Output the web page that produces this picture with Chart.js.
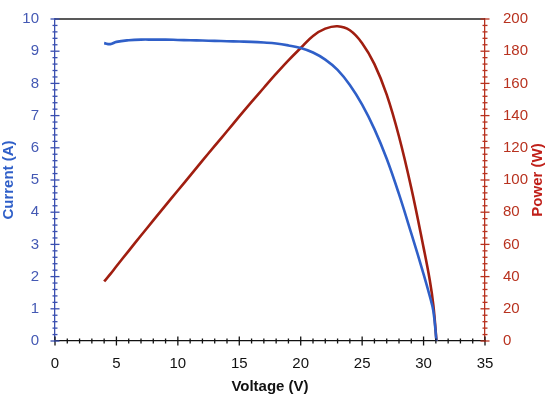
<!DOCTYPE html>
<html>
<head>
<meta charset="utf-8">
<script src="https://cdn.jsdelivr.net/npm/chart.js@4"></script>
<style>
    html, body { margin: 0; padding: 0; background: #fff; }
    #wrap { width: 550px; height: 396px; }
</style>
</head>
<body>
<div id="wrap"><canvas id="ivChart" width="550" height="396"></canvas></div>
<script>
// データここから
const voltage = [4, 4.5, 5, 6, 7, 8, 9, 10, 11, 12, 13, 14, 15, 16, 17, 18, 19, 20, 21, 22, 23, 24, 25, 26, 27, 28, 29, 30, 30.5, 30.8, 31.05];
const current = [9.25, 9.22, 9.29, 9.34, 9.36, 9.36, 9.36, 9.35, 9.34, 9.33, 9.32, 9.31, 9.3, 9.29, 9.27, 9.24, 9.18, 9.1, 8.96, 8.74, 8.42, 7.95, 7.34, 6.58, 5.66, 4.56, 3.34, 2.08, 1.4, 0.92, 0];
const power = [37, 41.5, 46.4, 56, 65.5, 74.9, 84.2, 93.5, 102.7, 112, 121.2, 130.3, 139.5, 148.5, 157.3, 166, 174.3, 182, 189.5, 194, 195.5, 193, 185, 172, 153, 127, 95, 58, 38, 22, 0];
const xTicks = [0, 5, 10, 15, 20, 25, 30, 35];
const currentTicks = [0, 1, 2, 3, 4, 5, 6, 7, 8, 9, 10];
const powerTicks = [0, 20, 40, 60, 80, 100, 120, 140, 160, 180, 200];
// データここまで

const blue = "#2f5fc8";
const red = "#a01e10";
const font = "'Liberation Sans', Arial, sans-serif";

function toPoints(xs, ys) {
    return xs.map(function (x, i) { return { x: x, y: ys[i] }; });
}

// 目盛り線（主・副）と右軸タイトルを描くプラグイン
const tickMarks = {
    id: "tickMarks",
    afterDraw(chart) {
        const ctx = chart.ctx;
        const area = chart.chartArea;
        const sx = chart.scales.x, sy = chart.scales.y, sp = chart.scales.yP;
        ctx.save();
        ctx.lineWidth = 1.3;

        // top border
        ctx.strokeStyle = "#222";
        ctx.beginPath();
        ctx.moveTo(area.left, area.top);
        ctx.lineTo(area.right, area.top);
        ctx.stroke();

        // x axis
        ctx.strokeStyle = "#111";
        for (let v = 0; v <= 35; v += 1) {
            const px = sx.getPixelForValue(v);
            const len = v % 5 === 0 ? 4.5 : 2.5;
            ctx.beginPath();
            ctx.moveTo(px, area.bottom - len);
            ctx.lineTo(px, area.bottom + len);
            ctx.stroke();
        }
        // left axis
        ctx.strokeStyle = "#3a4fb0";
        for (let i = 0; i <= 50; i++) {
            const py = sy.getPixelForValue(i * 0.2);
            const len = i % 5 === 0 ? 4.5 : 2.5;
            ctx.beginPath();
            ctx.moveTo(area.left - len, py);
            ctx.lineTo(area.left + len, py);
            ctx.stroke();
        }
        // right axis
        ctx.strokeStyle = "#b8321f";
        for (let i = 0; i <= 50; i++) {
            const py = sp.getPixelForValue(i * 4);
            const len = i % 5 === 0 ? 4.5 : 2.5;
            ctx.beginPath();
            ctx.moveTo(area.right - len, py);
            ctx.lineTo(area.right + len, py);
            ctx.stroke();
        }

        // 右軸タイトル（下から上へ）
        ctx.translate(538, (area.top + area.bottom) / 2);
        ctx.rotate(-Math.PI / 2);
        ctx.fillStyle = "#c0201a";
        ctx.font = "bold 15px " + font;
        ctx.textAlign = "center";
        ctx.textBaseline = "middle";
        ctx.fillText("Power (W)", 0, 0);
        ctx.restore();
    },
};

new Chart(document.querySelector("#ivChart"), {
    type: "line",
    data: {
        datasets: [
            {
                label: "Current (A)",
                data: toPoints(voltage, current),
                yAxisID: "y",
                borderColor: blue,
                borderWidth: 2.6,
                pointRadius: 0,
                tension: 0.4,
            },
            {
                label: "Power (W)",
                data: toPoints(voltage, power),
                yAxisID: "yP",
                borderColor: red,
                borderWidth: 2.6,
                pointRadius: 0,
                tension: 0.4,
            },
        ],
    },
    options: {
        responsive: false,
        animation: false,
        layout: { padding: { top: 12, left: 0, right: 0, bottom: 0 } },
        plugins: { legend: { display: false }, tooltip: { enabled: false } },
        scales: {
            x: {
                type: "linear",
                min: 0,
                max: 35,
                afterBuildTicks: (s) => { s.ticks = xTicks.map((v) => ({ value: v })); },
                ticks: { color: "#111", font: { family: font, size: 15 }, padding: 6 },
                grid: { display: false },
                border: { display: true, color: "#111", width: 1.3 },
                title: {
                    display: true,
                    text: "Voltage (V)",
                    color: "#111",
                    font: { family: font, size: 15, weight: "bold" },
                    padding: { top: 2, bottom: 0 },
                },
                afterFit: (s) => { s.height = 55; },
            },
            y: {
                position: "left",
                min: 0,
                max: 10,
                afterBuildTicks: (s) => { s.ticks = currentTicks.map((v) => ({ value: v })); },
                ticks: { color: "#4459b4", font: { family: font, size: 15 }, padding: 8 },
                grid: { display: false },
                border: { display: true, color: "#3a4fb0", width: 1.3 },
                title: {
                    display: true,
                    text: "Current (A)",
                    color: blue,
                    font: { family: font, size: 15, weight: "bold" },
                    padding: { top: 0, bottom: 2 },
                },
                afterFit: (s) => { s.width = 55; },
            },
            yP: {
                position: "right",
                min: 0,
                max: 200,
                afterBuildTicks: (s) => { s.ticks = powerTicks.map((v) => ({ value: v })); },
                ticks: { color: "#b8321f", font: { family: font, size: 15 }, padding: 10 },
                grid: { display: false },
                border: { display: true, color: "#b8321f", width: 1.3 },
                title: { display: false },
                afterFit: (s) => { s.width = 65; },
            },
        },
    },
    plugins: [tickMarks],
});
</script>
</body>
</html>
